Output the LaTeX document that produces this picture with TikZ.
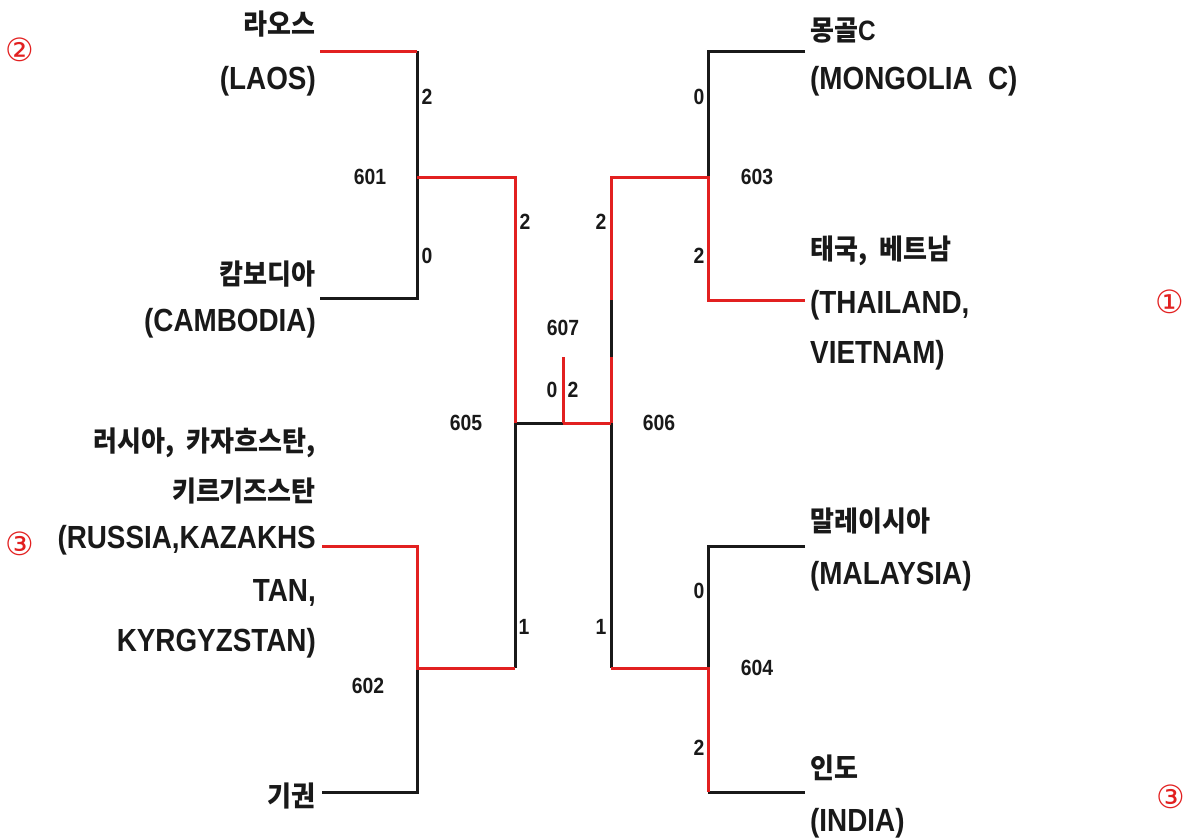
\documentclass[tikz,border=0pt]{standalone}
\usepackage{fontspec}
\newfontfamily\krfont{Noto Sans CJK KR}[FakeStretch=0.93]
\newfontfamily\latfont{Liberation Sans}[FakeStretch=0.87]
\newfontfamily\numfont{Liberation Sans}[FakeStretch=0.88]
\newfontfamily\circfont{DejaVu Sans}
\definecolor{bred}{RGB}{226,32,32}
\definecolor{bblack}{RGB}{25,25,25}
\begin{document}
\begin{tikzpicture}[x=1pt,y=-1pt,
  redline/.style={draw=bred,line width=3pt},
  blkline/.style={draw=bblack,line width=3pt},
  krL/.style={font=\krfont\bfseries\fontsize{28}{30}\selectfont,inner sep=0,anchor=base east,text=bblack},
  krR/.style={font=\krfont\bfseries\fontsize{28}{30}\selectfont,inner sep=0,anchor=base west,text=bblack},
  laL/.style={font=\latfont\bfseries\fontsize{32}{34}\selectfont,inner sep=0,anchor=base east,text=bblack},
  laR/.style={font=\latfont\bfseries\fontsize{32}{34}\selectfont,inner sep=0,anchor=base west,text=bblack},
  numlab/.style={font=\numfont\bfseries\fontsize{22}{24}\selectfont,inner sep=0,text=bblack},
  rank/.style={font=\circfont\fontsize{32}{34}\selectfont,inner sep=0,text=bred}]
\useasboundingbox (0,0) rectangle (1190,839);
% coordinates
\coordinate (laosE) at (320,51);  \coordinate (laosJ) at (417,51);
\coordinate (camE) at (320,298);  \coordinate (camJ) at (417,298);
\coordinate (m601) at (417,177);  \coordinate (m601R) at (515,177);
\coordinate (m605) at (515,423);
\coordinate (rusE) at (322,546);  \coordinate (rusJ) at (417,546);
\coordinate (kiE) at (322,792);   \coordinate (kiJ) at (417,792);
\coordinate (m602) at (417,668);  \coordinate (m602R) at (515,668);
\coordinate (m607) at (563,423);  \coordinate (top607) at (563,357);
\coordinate (m606) at (611,423);
\coordinate (brkA) at (611,300);  \coordinate (brkB) at (611,357);
\coordinate (m603L) at (611,177); \coordinate (m603) at (708,177);
\coordinate (monE) at (805,51);   \coordinate (monJ) at (708,51);
\coordinate (thaE) at (805,300);  \coordinate (thaJ) at (708,300);
\coordinate (m604L) at (611,668); \coordinate (m604) at (708,668);
\coordinate (malE) at (805,546);  \coordinate (malJ) at (708,546);
\coordinate (indE) at (805,792);  \coordinate (indJ) at (708,792);
% black lines
\draw[blkline] (laosJ) -- (m601);
\draw[blkline] (camE) -- (camJ) -- (m601);
\draw[blkline] (m602) -- (kiJ) -- (kiE);
\draw[blkline] (m602R) -- (m605) -- (m607);
\draw[blkline] (brkA) -- (brkB);
\draw[blkline] (m606) -- (m604L);
\draw[blkline] (monE) -- (monJ) -- (m603);
\draw[blkline] (malE) -- (malJ) -- (m604);
\draw[blkline] (indJ) -- (indE);
% red lines
\draw[redline] (laosE) -- (laosJ);
\draw[redline] (m601) -- (m601R) -- (m605);
\draw[redline] (rusE) -- (rusJ) -- (m602) -- (m602R);
\draw[redline] (m607) -- (m606);
\draw[redline] (m607) -- (top607);
\draw[redline] (m606) -- (brkB);
\draw[redline] (brkA) -- (m603L) -- (m603) -- (thaJ) -- (thaE);
\draw[redline] (m604L) -- (m604) -- (indJ);
% left team labels
\node[krL] (laosK) at (316,34) {라오스};
\node[laL] (laosL) at (316,89) {(LAOS)};
\node[krL] (camK) at (316,284) {캄보디아};
\node[laL] (camL) at (316,331) {(CAMBODIA)};
\node[krL] (rusK1) at (316,451) {러시아,\ \ 카자흐스탄,};
\node[krL] (rusK2) at (316,501) {키르기즈스탄};
\node[laL] (rusL1) at (316,548) {(RUSSIA,KAZAKHS};
\node[laL] (rusL2) at (316,601) {TAN,};
\node[laL] (rusL3) at (316,651) {KYRGYZSTAN)};
\node[krL] (kiK) at (316,806) {기권};
% right team labels
\node[krR] (monK) at (810,40) {몽골{\latfont C}};
\node[laR] (monL) at (810,89) {(MONGOLIA\ \ C)};
\node[krR] (thaK) at (810,259) {태국,\ \ 베트남};
\node[laR] (thaL1) at (810,313) {(THAILAND,};
\node[laR] (thaL2) at (810,363) {VIETNAM)};
\node[krR] (malK) at (810,531) {말레이시아};
\node[laR] (malL) at (810,584) {(MALAYSIA)};
\node[krR] (indK) at (810,778) {인도};
\node[laR] (indL) at (810,831) {(INDIA)};
% match numbers and scores
\node[numlab] (s1) at (427,97) {2};
\node[numlab] (s2) at (427,256) {0};
\node[numlab] (n601) at (370,177) {601};
\node[numlab] (s3) at (525,222) {2};
\node[numlab] (n605) at (466,423) {605};
\node[numlab] (s4) at (524,627) {1};
\node[numlab] (n602) at (368,686) {602};
\node[numlab] (n607) at (563,328) {607};
\node[numlab] (s5) at (552,390) {0};
\node[numlab] (s6) at (573,390) {2};
\node[numlab] (n606) at (659,423) {606};
\node[numlab] (s7) at (601,222) {2};
\node[numlab] (s8) at (699,97) {0};
\node[numlab] (n603) at (757,177) {603};
\node[numlab] (s9) at (699,256) {2};
\node[numlab] (s10) at (601,627) {1};
\node[numlab] (s11) at (699,591) {0};
\node[numlab] (n604) at (757,668) {604};
\node[numlab] (s12) at (699,748) {2};
% ranks
\node[rank] (r2) at (20,50) {②};
\node[rank] (r1) at (1170,302) {①};
\node[rank] (r3a) at (20,544) {③};
\node[rank] (r3b) at (1171,797) {③};
\end{tikzpicture}
\end{document}
